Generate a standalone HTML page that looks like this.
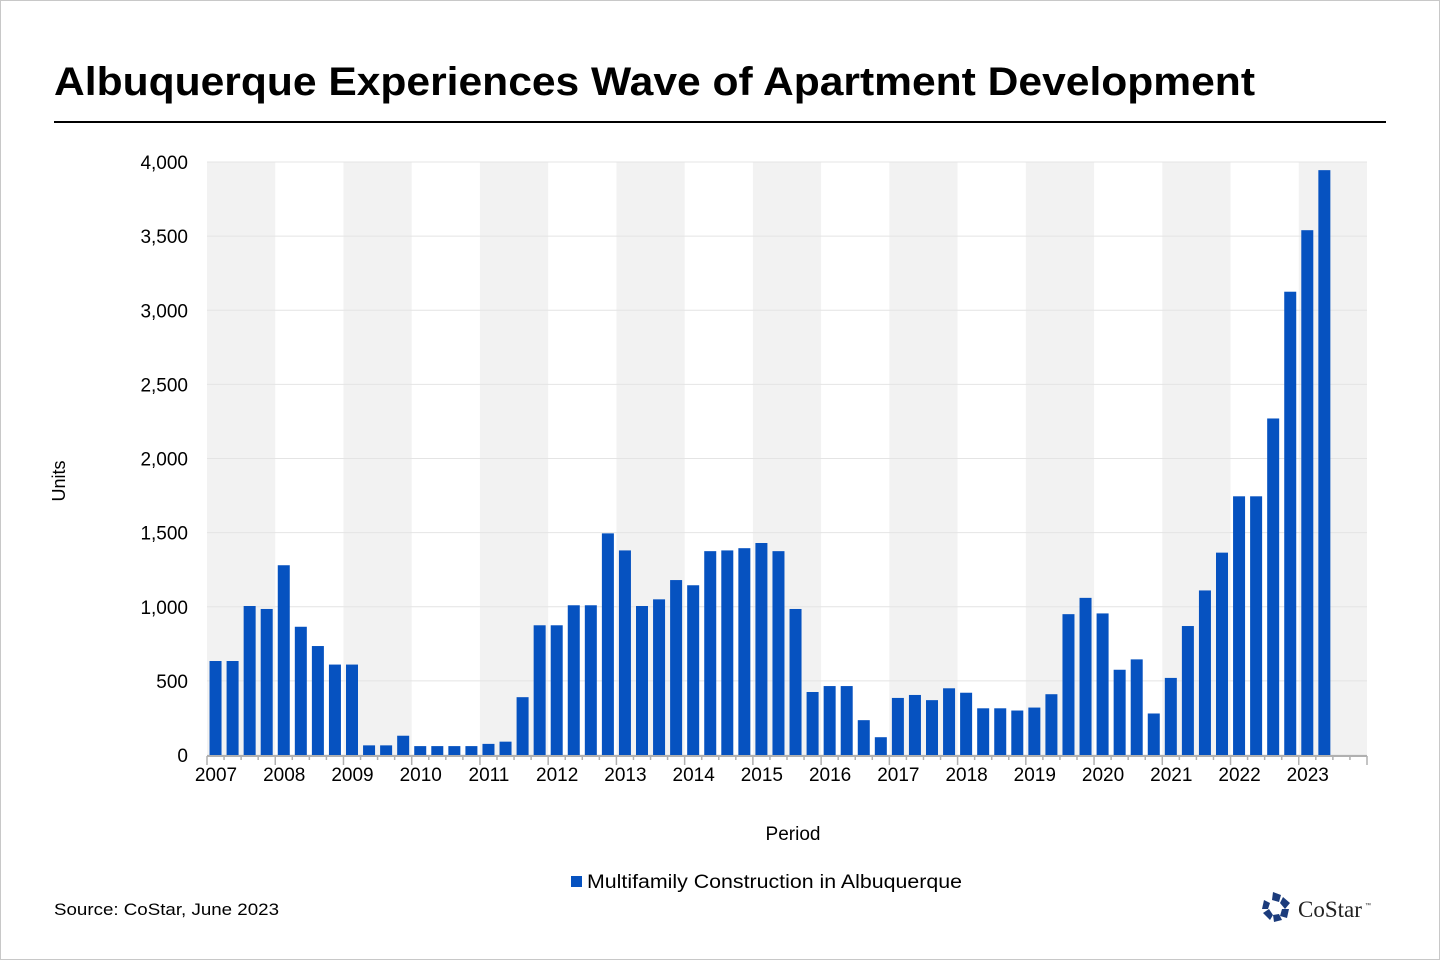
<!DOCTYPE html>
<html><head><meta charset="utf-8"><style>
body{margin:0;background:#fff}
#c{position:relative;width:1438px;height:958px;border:1px solid #c8c8c8;background:#fff;font-family:"Liberation Sans",sans-serif;overflow:hidden}
</style></head><body><div id="c">
<svg id="s" width="1438" height="958" xmlns="http://www.w3.org/2000/svg" style="position:absolute;left:0;top:0;font-family:'Liberation Sans',sans-serif">
<text x="53" y="94" font-size="40" font-weight="bold" fill="#000" textLength="1201" lengthAdjust="spacingAndGlyphs">Albuquerque Experiences Wave of Apartment Development</text>
<rect x="53" y="120" width="1332" height="2" fill="#000"/>
<g id="g"></g>
<text transform="translate(64,480) rotate(-90)" font-size="18" text-anchor="middle" fill="#000">Units</text>
<text x="792" y="839" font-size="19" text-anchor="middle" fill="#000">Period</text>
<rect x="570" y="875" width="11" height="11" fill="#0652c0"/>
<text x="586" y="887" font-size="19" fill="#000" textLength="375" lengthAdjust="spacingAndGlyphs">Multifamily Construction in Albuquerque</text>
<text x="53" y="914" font-size="17" fill="#000" textLength="225" lengthAdjust="spacingAndGlyphs">Source: CoStar, June 2023</text>
<g fill="#1c3c7c" transform="translate(1275,906)">
<polygon points="-3,-15 5,-12 3,-5 -4,-7"/>
<polygon points="7,-10 14,-4 9,2 4,-4"/>
<polygon points="13,2 11,11 4,9 6,2"/>
<polygon points="6,13 -2,15 -3,8 3,7"/>
<polygon points="-6,13 -13,6 -7,2 -3,8"/>
<polygon points="-14,2 -12,-7 -6,-4 -8,2"/>
</g>
<text x="1297" y="916" font-size="23" font-family="'Liberation Serif',serif" fill="#222">CoStar</text>
<text x="1364" y="906" font-size="6" fill="#222">™</text>
</svg></div>
<script>
var d=[634,634,1005,985,1280,865,735,610,610,65,65,130,60,60,60,60,75,90,390,875,875,1010,1010,1495,1380,1005,1050,1180,1145,1375,1380,1395,1430,1375,985,425,465,465,235,120,385,405,370,450,420,315,315,300,320,410,950,1060,955,575,645,280,520,870,1110,1365,1745,1745,2270,3125,3540,3945];
var x0=206,x1=1366,y0=754,sc=593/4000,bw=(x1-x0)/17,p=bw/4,h='';
for(var i=0;i<17;i+=2)h+='<rect x="'+(x0+i*bw)+'" y="161" width="'+bw+'" height="593" fill="#f2f2f2"/>';
for(var v=0;v<=4000;v+=500){var y=y0-v*sc;h+='<line x1="'+x0+'" x2="'+x1+'" y1="'+y+'" y2="'+y+'" stroke="#e4e4e4" stroke-width="1"/>';
h+='<text x="187" y="'+(y+7)+'" font-size="19" text-anchor="end">'+(v?v.toLocaleString('en-US'):'0')+'</text>';}
d.forEach(function(v,i){var c=x0+p*i+p/2;h+='<rect x="'+(c-6)+'" y="'+(y0-v*sc)+'" width="12" height="'+(v*sc)+'" fill="#0652c0"/>';});
h+='<line x1="'+x0+'" x2="'+x1+'" y1="755" y2="755" stroke="#b0b0b0" stroke-width="2"/>';
for(var i=0;i<=68;i++){var x=x0+i*p,L=(i%4==0)?9:4;h+='<line x1="'+x+'" x2="'+x+'" y1="755" y2="'+(755+L)+'" stroke="#b0b0b0" stroke-width="1.5"/>';}
for(var i=0;i<17;i++)h+='<text x="'+(x0+i*bw+9)+'" y="780" font-size="19" text-anchor="middle">'+(2007+i)+'</text>';
document.getElementById('g').innerHTML=h;
</script></body></html>
